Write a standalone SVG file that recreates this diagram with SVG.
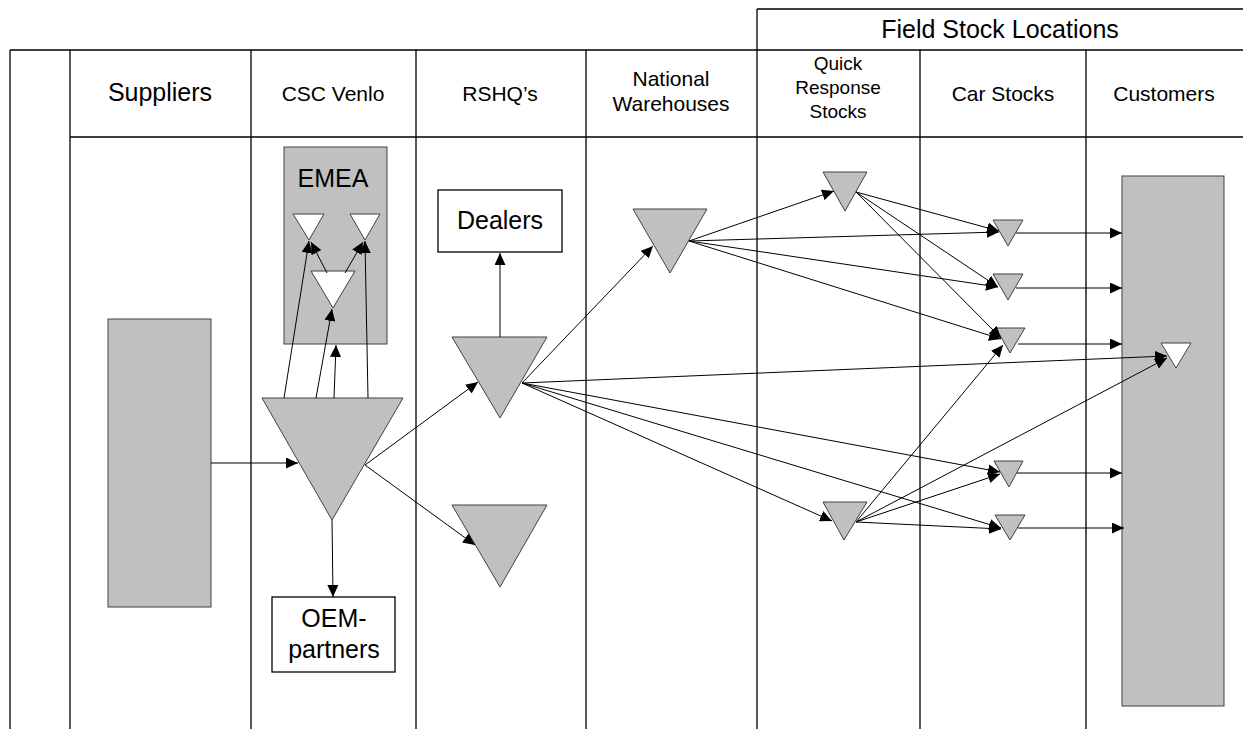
<svg xmlns="http://www.w3.org/2000/svg" width="1243" height="729" viewBox="0 0 1243 729">
<style>
.grid{stroke:#000;stroke-width:1.3;fill:none}
.hd{font-family:"Liberation Sans",Arial,sans-serif;font-size:21px;fill:#000;text-anchor:middle}
.hs{font-family:"Liberation Sans",Arial,sans-serif;font-size:19px;fill:#000;text-anchor:middle}
.big{font-family:"Liberation Sans",Arial,sans-serif;font-size:25px;fill:#000;text-anchor:middle}
.g{fill:#c0c0c0;stroke:#404040;stroke-width:1}
.w{fill:#fff;stroke:#404040;stroke-width:1}
.box{fill:#fff;stroke:#000;stroke-width:1.3}
.c{stroke:#000;stroke-width:1;fill:none;marker-end:url(#ah)}
</style>
<defs>
<marker id="ah" markerUnits="userSpaceOnUse" markerWidth="13" markerHeight="11" refX="12" refY="5.5" orient="auto">
<path d="M0,0 L12,5.5 L0,11 z" fill="#000"/>
</marker>
</defs>
<rect width="1243" height="729" fill="#fff"/>
<g id="table">
<path class="grid" d="M10,50 H1243 M70,137 H1243 M757,9 H1243 M757,9 V50 M10,50 V729 M70,50 V729 M251,50 V729 M416,50 V729 M586,50 V729 M757,50 V729 M920,50 V729 M1086,50 V729"/>
<text class="big" x="1000" y="38">Field Stock Locations</text>
<text class="big" x="160" y="101">Suppliers</text>
<text class="hd" x="333" y="101">CSC Venlo</text>
<text class="hd" x="500" y="101">RSHQ’s</text>
<text class="hd" x="671" y="86">National</text>
<text class="hd" x="671" y="111">Warehouses</text>
<text class="hs" x="838" y="70">Quick</text>
<text class="hs" x="838" y="94">Response</text>
<text class="hs" x="838" y="118">Stocks</text>
<text class="hd" x="1003" y="101">Car Stocks</text>
<text class="hd" x="1164" y="101">Customers</text>
</g>
<g id="suppliers"><rect class="g" x="108" y="319" width="103" height="288"/></g>
<g id="emea"><rect class="g" x="284" y="147" width="103" height="197"/><text class="big" x="333" y="187">EMEA</text></g>
<g id="emea-left"><polygon class="w" points="293,214 324,214 309,240"/></g>
<g id="emea-right"><polygon class="w" points="350,214 380,214 365,240"/></g>
<g id="emea-mid"><polygon class="w" points="311,271 355,271 333,308"/></g>
<g id="csc"><polygon class="g" points="262,398 403,398 332,520"/></g>
<g id="oem"><rect class="box" x="272" y="597" width="123" height="75"/><text class="big" x="334" y="627">OEM-</text><text class="big" x="334" y="658">partners</text></g>
<g id="dealers"><rect class="box" x="438" y="190" width="124" height="62"/><text class="big" x="500" y="229">Dealers</text></g>
<g id="rshq1"><polygon class="g" points="452,337 547,337 500,418"/></g>
<g id="rshq2"><polygon class="g" points="452,505 547,505 500,587"/></g>
<g id="national"><polygon class="g" points="633,209 707,209 670,273"/></g>
<g id="qr1"><polygon class="g" points="823,172 867,172 845,211"/></g>
<g id="qr2"><polygon class="g" points="823,502 867,502 844,540"/></g>
<g id="cs1"><polygon class="g" points="993,220 1023,220 1008,246"/></g>
<g id="cs2"><polygon class="g" points="993,274 1023,274 1008,300"/></g>
<g id="cs3"><polygon class="g" points="996,328 1025,328 1010,353"/></g>
<g id="cs4"><polygon class="g" points="994,461 1023,461 1009,487"/></g>
<g id="cs5"><polygon class="g" points="995,515 1025,515 1010,540"/></g>
<g id="customers"><rect class="g" x="1122" y="176" width="102" height="530"/></g>
<g id="cust-tri"><polygon class="w" points="1161,343 1191,343 1176,368"/></g>
<g id="connectors">
<path class="c" d="M211,463 L298,463"/>
<path class="c" d="M284,398 L309,241"/>
<path class="c" d="M316,398 L332,309"/>
<path class="c" d="M334,398 L336,345"/>
<path class="c" d="M368,398 L365,241"/>
<path class="c" d="M327,273 L311,242"/>
<path class="c" d="M345,273 L363,242"/>
<path class="c" d="M332,520 L333,597"/>
<path class="c" d="M365,465 L478,382"/>
<path class="c" d="M365,465 L475,545"/>
<path class="c" d="M500,337 L500,253"/>
<path class="c" d="M522,383 L653,246"/>
<path class="c" d="M522,383 L1167,356"/>
<path class="c" d="M522,383 L1000,472"/>
<path class="c" d="M522,383 L1001,528"/>
<path class="c" d="M522,383 L832,521"/>
<path class="c" d="M689,241 L834,191"/>
<path class="c" d="M689,241 L999,232"/>
<path class="c" d="M689,241 L998,287"/>
<path class="c" d="M689,241 L1001,339"/>
<path class="c" d="M856,192 L999,231"/>
<path class="c" d="M856,192 L998,287"/>
<path class="c" d="M856,192 L1001,338"/>
<path class="c" d="M856,522 L1003,345"/>
<path class="c" d="M856,522 L1167,358"/>
<path class="c" d="M856,522 L1000,474"/>
<path class="c" d="M856,522 L1001,529"/>
<path class="c" d="M1016,233 L1122,233"/>
<path class="c" d="M1016,288 L1122,288"/>
<path class="c" d="M1018,344 L1122,344"/>
<path class="c" d="M1017,473 L1122,473"/>
<path class="c" d="M1018,528 L1124,528"/>
</g>
</svg>
